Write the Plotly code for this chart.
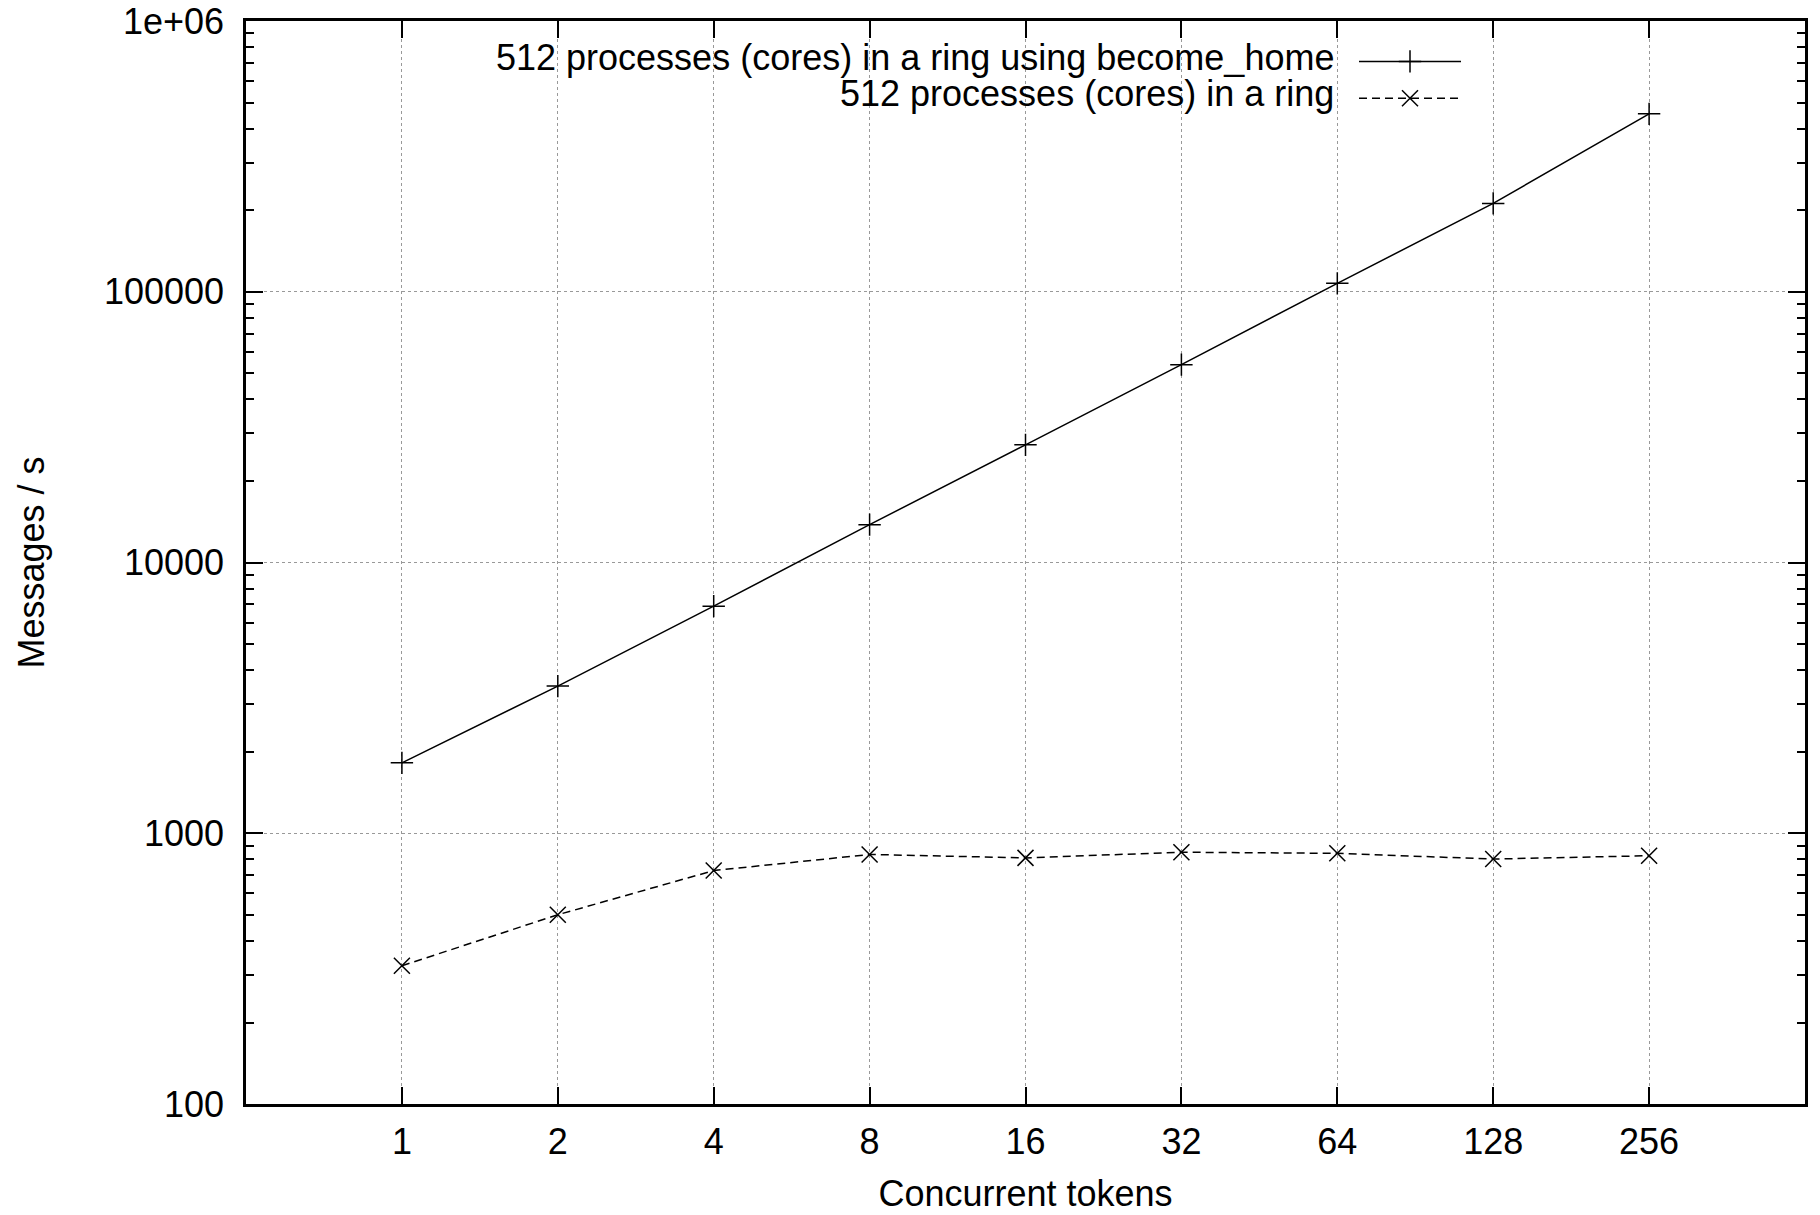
import plotly.graph_objects as go

tokens = [1, 2, 4, 8, 16, 32, 64, 128, 256]
become_home = [1820, 3495, 6900, 13800, 27200, 53800, 107400, 212000, 454000]
ring = [324, 500, 728, 835, 811, 851, 843, 803, 826]

series_names = ["512 processes (cores) in a ring using become_home",
                "512 processes (cores) in a ring"]
x_ticks = [1, 2, 4, 8, 16, 32, 64, 128, 256]
x_ticktext = ["1", "2", "4", "8", "16", "32", "64", "128", "256"]
y_ticks = [100, 1000, 10000, 100000, 1000000]
y_ticktext = ["100", "1000", "10000", "100000", "1e+06"]

FONT = "Liberation Sans, Arial, Helvetica, sans-serif"
FS = 36
# page has an 8px body margin; figure is sized so the page is 1820x1215
OFF = 8
W, H = 1820 - OFF, 1215 - OFF
L, R, T, B = 246 - OFF, 15, 21 - OFF, 111
pw, ph = W - L - R, H - T - B

def px(xpage):
    return (xpage - OFF - L) / pw

def py(ypage):
    return (H - B - (ypage - OFF)) / ph

fig = go.Figure()
fig.add_trace(go.Scatter(
    x=tokens, y=become_home, mode="lines+markers", name="",
    line=dict(color="black", width=1.5),
    marker=dict(symbol="cross-thin", size=16, color="black",
                line=dict(color="black", width=1.5)),
))
fig.add_trace(go.Scatter(
    x=tokens, y=ring, mode="lines+markers", name="",
    line=dict(color="black", width=1.5, dash="8px,5px"),
    marker=dict(symbol="x-thin", size=16, color="black",
                line=dict(color="black", width=1.5)),
))

# legend texts (gnuplot style: right-aligned text left of the sample)
for i, name in enumerate(series_names):
    fig.add_annotation(text=name, xref="paper", yref="paper",
                       x=px(1336), y=py(57 + 36.5 * i), xanchor="right", yanchor="middle",
                       showarrow=False, font=dict(family=FONT, size=FS, color="black"))

# opaque key box covering the grid
fig.add_shape(type="rect", xref="paper", yref="paper",
              x0=px(395), x1=px(1472), y0=py(112), y1=py(27),
              fillcolor="white", line=dict(width=0), layer="below")

axis_common = dict(
    showline=True, linecolor="black", linewidth=2.5, mirror="allticks",
    ticks="inside", ticklen=17, tickwidth=2, tickcolor="black",
    showgrid=True, gridcolor="#999999", gridwidth=1, griddash="dot",
    zeroline=False, automargin=False, ticklabeloverflow="allow",
    tickfont=dict(family=FONT, size=FS, color="black"),
    title_font=dict(family=FONT, size=FS, color="black"),
)

fig.update_xaxes(
    type="log", range=[-0.30103, 2.70927],
    tickvals=x_ticks, ticktext=x_ticktext,
    title_text="Concurrent tokens", title_standoff=20,
    ticklabelstandoff=4,
    **axis_common,
)
fig.update_yaxes(
    type="log", range=[2, 6],
    tickvals=y_ticks, ticktext=y_ticktext,
    title_text="Messages / s", title_standoff=49,
    ticklabelstandoff=12,
    minor=dict(ticks="inside", ticklen=8, tickwidth=2, tickcolor="black",
               dtick="D1", showgrid=False),
    **axis_common,
)

fig.update_layout(
    width=W, height=H,
    margin=dict(l=L, r=R, t=T, b=B),
    paper_bgcolor="white", plot_bgcolor="white",
    font=dict(family=FONT, size=FS, color="black"),
    showlegend=True,
    legend=dict(x=px(1354), y=py(38), xanchor="left", yanchor="top",
                bgcolor="rgba(0,0,0,0)", borderwidth=0,
                itemwidth=102, tracegroupgap=0,
                font=dict(family=FONT, size=26)),
)

fig.write_html("out.html")
